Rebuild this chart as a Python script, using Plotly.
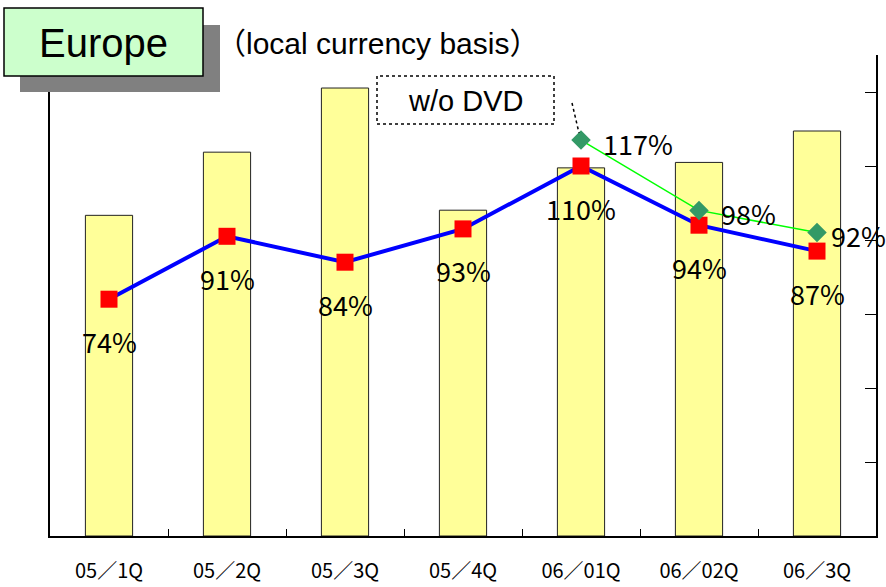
import plotly.graph_objects as go

# data
quarters = ["05／1Q", "05／2Q", "05／3Q", "05／4Q", "06／01Q", "06／02Q", "06／3Q"]
sales = [1000, 1197, 1397, 1016, 1148, 1165, 1263]          # bars (no scale shown)
growth = [74, 91, 84, 93, 110, 94, 87]                        # % (blue line)
growth_labels = ["74%", "91%", "84%", "93%", "110%", "94%", "87%"]
wo_dvd_quarters = ["06／01Q", "06／02Q", "06／3Q"]
wo_dvd = [117, 98, 92]                                        # % w/o DVD (green line)
wo_dvd_labels = ["117%", "98%", "92%"]

W, H = 886, 587
L, R, T, B = 50, 10, 55, 51


def px(x):
    return (x - L) / (W - L - R)


def py(y):
    return (H - B - y) / (H - T - B)


fig = go.Figure()

fig.add_trace(go.Bar(
    x=quarters, y=sales, width=0.4,
    marker=dict(color="#FFFF99", line=dict(color="#222222", width=1)),
    hoverinfo="skip",
))
fig.add_trace(go.Scatter(
    x=quarters, y=growth, yaxis="y2", mode="lines+markers",
    line=dict(color="#0000FF", width=4),
    marker=dict(symbol="square", size=17, color="#FF0000"),
))
fig.add_trace(go.Scatter(
    x=wo_dvd_quarters, y=wo_dvd, yaxis="y2", mode="lines+markers",
    line=dict(color="#00FF00", width=1.5),
    marker=dict(symbol="diamond", size=15, color="#339966"),
))

lab_font = dict(family="Noto Sans CJK JP", size=27, color="black")
anns = []
for q, v, t in zip(quarters, growth, growth_labels):
    anns.append(dict(x=q, y=v, xref="x", yref="y2", text=t, showarrow=False,
                     xanchor="center", yanchor="middle", yshift=-42, font=lab_font))
for q, v, t, sh in zip(wo_dvd_quarters, wo_dvd, wo_dvd_labels, [20, 20, 12]):
    anns.append(dict(x=q, y=v, xref="x", yref="y2", text=t, showarrow=False,
                     xanchor="left", yanchor="middle", xshift=sh, yshift=-3, font=lab_font))

# title and notes
anns.append(dict(x=px(103), y=py(43), xref="paper", yref="paper", text="Europe",
                 xanchor="center", yanchor="middle", showarrow=False,
                 font=dict(family="Liberation Sans", size=40, color="black")))
anns.append(dict(x=px(214), y=py(43), xref="paper", yref="paper", xanchor="left",
                 yanchor="middle", text="（local currency basis）", showarrow=False,
                 font=dict(family="Liberation Sans, Noto Sans CJK JP", size=30, color="black")))
anns.append(dict(x=px(465), y=py(101), xref="paper", yref="paper", text="w/o DVD",
                 xanchor="center", yanchor="middle", showarrow=False,
                 font=dict(family="Liberation Sans", size=29, color="black")))

shapes = [
    dict(type="rect", xref="paper", yref="paper", x0=px(20), x1=px(220), y0=py(92), y1=py(25),
         fillcolor="#808080", line=dict(width=0), layer="above"),
    dict(type="rect", xref="paper", yref="paper", x0=px(4), x1=px(203), y0=py(76), y1=py(8),
         fillcolor="#CCFFCC", line=dict(color="black", width=1.5), layer="above"),
    dict(type="rect", xref="paper", yref="paper", x0=px(377), x1=px(554), y0=py(124), y1=py(76),
         line=dict(color="black", width=1.5, dash="dot"), layer="above"),
    dict(type="line", xref="paper", yref="paper", x0=px(572), x1=px(579), y0=py(103), y1=py(133),
         line=dict(color="black", width=1.5, dash="dot"), layer="above"),
]

fig.update_layout(
    width=W, height=H,
    margin=dict(l=L, r=R, t=T, b=B, autoexpand=False),
    plot_bgcolor="white", paper_bgcolor="white",
    showlegend=False,
    annotations=anns, shapes=shapes,
    xaxis=dict(range=[-0.5, 6.5], showline=True, linecolor="black", linewidth=2,
               ticks="inside", tickson="boundaries", ticklen=7, tickcolor="black",
               tickfont=dict(family="Noto Sans CJK JP", size=20, color="black"),
               ticklabelstandoff=16, showgrid=False, zeroline=False, automargin=False),
    yaxis=dict(range=[0, 1500], showline=True, linecolor="black", linewidth=1.5,
               showticklabels=False, ticks="", showgrid=False, zeroline=False,
               automargin=False),
    yaxis2=dict(range=[10, 140], overlaying="y", side="right", showline=True,
                linecolor="black", linewidth=2, ticks="inside", ticklen=11,
                tickcolor="black", tick0=10, dtick=20, showticklabels=False,
                showgrid=False, zeroline=False, automargin=False),
)

# the page has a default 8px body margin; drop it so the figure fills the window
fig.write_html("out.html", config={"displayModeBar": False},
               post_script="document.body.style.margin='0';")
